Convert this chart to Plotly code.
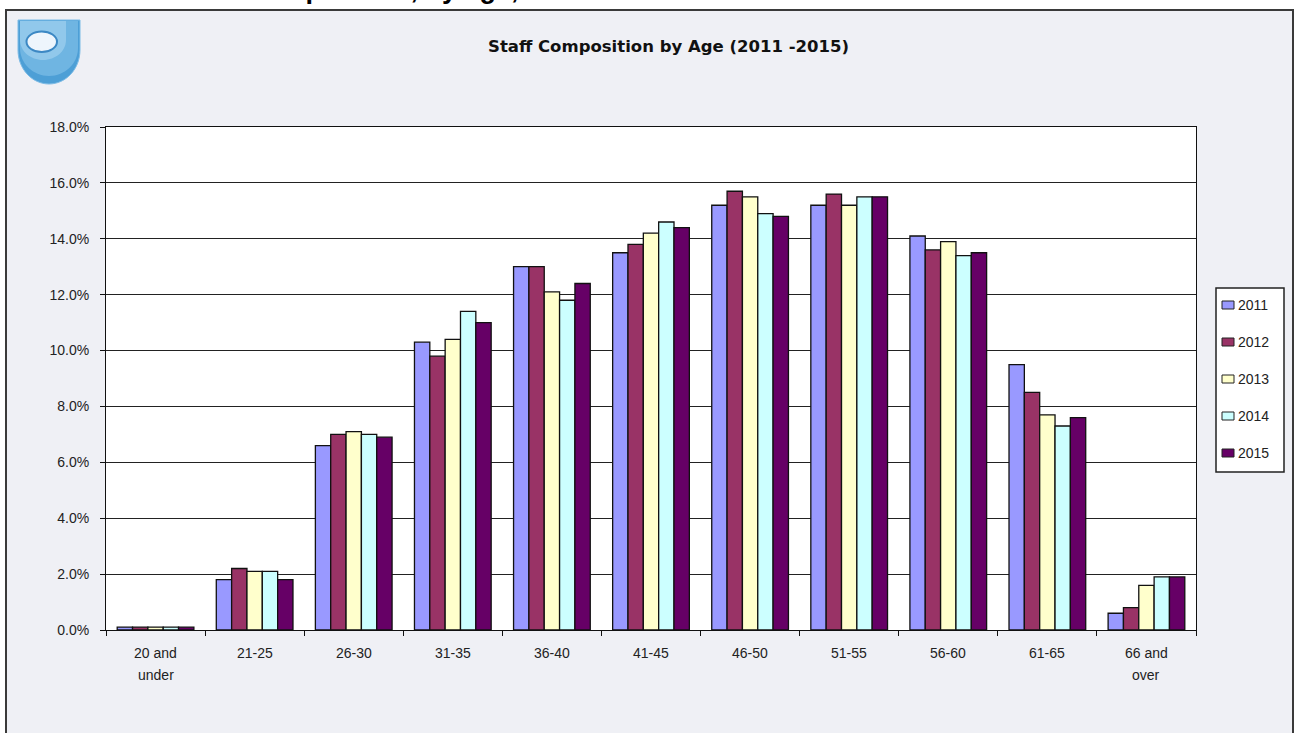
import plotly.graph_objects as go

# Age bands and their axis labels
age_bands = ["20 and under", "21-25", "26-30", "31-35", "36-40", "41-45",
             "46-50", "51-55", "56-60", "61-65", "66 and over"]
band_labels = ["20 and<br>under", "21-25", "26-30", "31-35", "36-40", "41-45",
               "46-50", "51-55", "56-60", "61-65", "66 and<br>over"]

years = ["2011", "2012", "2013", "2014", "2015"]

# Share of staff in each age band (%)
share_2011 = [0.1, 1.8, 6.6, 10.3, 13.0, 13.5, 15.2, 15.2, 14.1, 9.5, 0.6]
share_2012 = [0.1, 2.2, 7.0, 9.8, 13.0, 13.8, 15.7, 15.6, 13.6, 8.5, 0.8]
share_2013 = [0.1, 2.1, 7.1, 10.4, 12.1, 14.2, 15.5, 15.2, 13.9, 7.7, 1.6]
share_2014 = [0.1, 2.1, 7.0, 11.4, 11.8, 14.6, 14.9, 15.5, 13.4, 7.3, 1.9]
share_2015 = [0.1, 1.8, 6.9, 11.0, 12.4, 14.4, 14.8, 15.5, 13.5, 7.6, 1.9]

year_colors = ["#9999FF", "#993366", "#FFFFCC", "#CCFFFF", "#660066"]

y_ticks = [0, 2, 4, 6, 8, 10, 12, 14, 16, 18]
y_tick_text = [f"{v:.1f}%" for v in y_ticks]

W, H = 1296, 733
L, R, T, B = 106, 100, 127, 103
PW, PH = W - L - R, H - T - B
FONT = "Liberation Sans, Arial, sans-serif"


def px(x):
    return (x - L) / PW


def py(y):
    return (H - B - y) / PH


fig = go.Figure()
for year, vals, col in zip(years, [share_2011, share_2012, share_2013, share_2014, share_2015], year_colors):
    fig.add_trace(go.Bar(
        x=age_bands, y=vals, name=year,
        marker=dict(color=col, line=dict(color="#111111", width=1.3)),
    ))

shapes = [
    # framed panel behind the chart
    dict(type="rect", xref="paper", yref="paper", layer="below",
         x0=px(6), x1=px(1293), y0=py(760), y1=py(10),
         fillcolor="#EFF0F5", line=dict(color="#3A3A3A", width=2)),
    # white plotting area
    dict(type="rect", xref="paper", yref="paper", layer="below",
         x0=0, x1=1, y0=0, y1=1, fillcolor="white", line=dict(width=0)),
]


def shield_path(x0, x1, ytop, yside, ybot):
    # flat top, straight sides, rounded bottom (two cubic curves)
    xm = (x0 + x1) / 2
    k = 0.5523
    rx = (x1 - x0) / 2
    ry = ybot - yside
    pts = [
        f"M {px(x0)},{py(ytop)}",
        f"L {px(x1)},{py(ytop)}",
        f"L {px(x1)},{py(yside)}",
        f"C {px(x1)},{py(yside + k * ry)} {px(xm + k * rx)},{py(ybot)} {px(xm)},{py(ybot)}",
        f"C {px(xm - k * rx)},{py(ybot)} {px(x0)},{py(yside + k * ry)} {px(x0)},{py(yside)}",
        "Z",
    ]
    return " ".join(pts)


# university shield emblem
shapes.append(dict(type="path", xref="paper", yref="paper", path=shield_path(18, 80, 20, 50, 84),
                   fillcolor="#4D9FD6", line=dict(color="#7DBCE6", width=1)))
shapes.append(dict(type="path", xref="paper", yref="paper", path=shield_path(20, 78, 21, 48, 76),
                   fillcolor="#8DC7EC", opacity=0.55, line=dict(width=0)))
shapes.append(dict(type="path", xref="paper", yref="paper", path=shield_path(20, 66, 21, 40, 60),
                   fillcolor="#B3DBF3", opacity=0.5, line=dict(width=0)))
shapes.append(dict(type="circle", xref="paper", yref="paper",
                   x0=px(26.5), x1=px(57), y0=py(52), y1=py(31.5),
                   fillcolor="#EEF5FC", line=dict(color="#3C88C4", width=2)))

# legend panel drawn from the year list
LEG_X0, LEG_X1, LEG_Y0, LEG_Y1 = 1216, 1284, 288, 472
shapes.append(dict(type="rect", xref="paper", yref="paper",
                   x0=px(LEG_X0), x1=px(LEG_X1), y0=py(LEG_Y1), y1=py(LEG_Y0),
                   fillcolor="white", line=dict(color="#222222", width=1.5)))

annotations = [
    dict(text="<b>Staff Composition by Age (2011 -2015)</b>", xref="paper", yref="paper",
         x=px(668), y=py(47), xanchor="center", yanchor="middle", showarrow=False,
         font=dict(family="DejaVu Sans, Verdana, sans-serif", size=16.5, color="#111111")),
    dict(text="<b>Staff Composition, by age, 2011-2015</b>", xref="paper", yref="paper",
         x=px(176), y=py(6), xanchor="left", yanchor="bottom", showarrow=False,
         font=dict(family=FONT, size=27, color="#000000")),
]

for i, (year, col) in enumerate(zip(years, year_colors)):
    yc = 305 + 37 * i
    shapes.append(dict(type="rect", xref="paper", yref="paper",
                       x0=px(1222), x1=px(1234), y0=py(yc + 4), y1=py(yc - 4),
                       fillcolor=col, line=dict(color="#222222", width=1)))
    annotations.append(dict(text=year, xref="paper", yref="paper", x=px(1236), y=py(yc),
                            xanchor="left", yanchor="middle", showarrow=False,
                            font=dict(family=FONT, size=14, color="#222222")))

# category labels, one annotation per text line
for band, lab in zip(age_bands, band_labels):
    for j, line in enumerate(lab.split("<br>")):
        annotations.append(dict(text=line, xref="x", yref="paper", x=band, y=py(653 + 22 * j),
                                xanchor="center", yanchor="middle", showarrow=False,
                                font=dict(family=FONT, size=14, color="#222222")))

fig.update_layout(
    width=W, height=H,
    margin=dict(l=L, r=R, t=T, b=B, pad=0, autoexpand=False),
    paper_bgcolor="white",
    plot_bgcolor="white",
    barmode="group",
    bargap=0.226,
    bargroupgap=0,
    showlegend=False,
    shapes=shapes,
    annotations=annotations,
    font=dict(family=FONT, size=14, color="#222222"),
)

fig.update_xaxes(
    type="category", showticklabels=False, tickson="boundaries",
    ticks="outside", ticklen=5, tickcolor="#111111",
    showline=True, linecolor="#111111", linewidth=1, mirror=True,
    showgrid=False, automargin=False,
)
fig.update_yaxes(
    range=[0, 18], tickvals=y_ticks, ticktext=y_tick_text,
    ticks="outside", ticklen=5, tickcolor="#111111", ticklabelstandoff=8,
    showline=True, linecolor="#111111", linewidth=1, mirror=True,
    showgrid=True, gridcolor="#222222", gridwidth=1, zeroline=False, automargin=False,
    tickfont=dict(family=FONT, size=14, color="#222222"),
)

fig.write_html("out.html")
